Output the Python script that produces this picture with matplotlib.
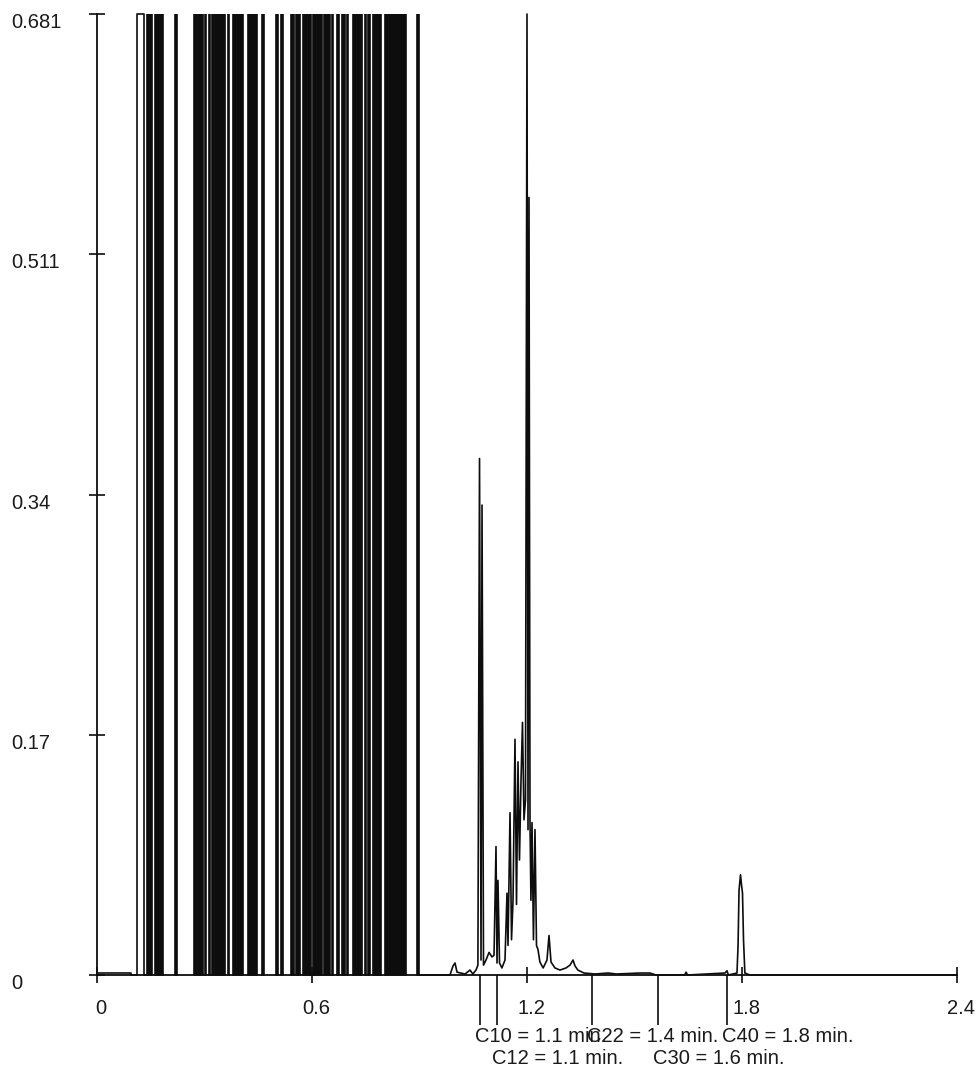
import matplotlib
matplotlib.use("Agg")
import matplotlib.pyplot as plt
import matplotlib.transforms as mtransforms

plt.rcParams['font.family'] = ['Liberation Sans', 'DejaVu Sans']

# ---------------- data ----------------
SAT_LEVEL = 0.681  # detector saturation (top of scale)

# lead-in trace (minutes, signal)
pre_t = [0.000, 0.0935, 0.0935, 0.1116, 0.1116, 0.1298, 0.1298, 0.135]
pre_y = [0.0014, 0.0014, 0.0, 0.0, 0.681, 0.681, 0.0, 0.0]

# saturated region: intervals (minutes) where the trace is pinned at the top
sat_start = [0.1395, 0.1619, 0.2177, 0.2707, 0.2819, 0.3014, 0.3126, 0.3209,
             0.3293, 0.3656, 0.3795, 0.4214, 0.4605, 0.4995, 0.5135, 0.5414,
             0.5553, 0.5749, 0.6028, 0.6335, 0.6558, 0.6698, 0.6837, 0.6977,
             0.7144, 0.7479, 0.7563, 0.7702, 0.8037, 0.8930]
sat_end = [0.1535, 0.1842, 0.2233, 0.2791, 0.2958, 0.3042, 0.3153, 0.3265,
           0.3572, 0.3684, 0.4074, 0.4465, 0.4660, 0.5051, 0.5191, 0.5498,
           0.5665, 0.5972, 0.6279, 0.6502, 0.6586, 0.6753, 0.6921, 0.7005,
           0.7395, 0.7507, 0.7619, 0.7926, 0.8623, 0.8986]

# trace after the saturated region (minutes, signal)
post_t = [0.900, 0.985, 0.9935, 0.9991, 1.0047, 1.027, 1.041, 1.049, 1.0577,
          1.063, 1.0675, 1.0717, 1.0745, 1.0786, 1.0856, 1.094, 1.1024, 1.108,
          1.1135, 1.1163, 1.119, 1.1233, 1.130, 1.1386, 1.1442, 1.147, 1.1526,
          1.1568, 1.161, 1.1665, 1.1707, 1.1749, 1.179, 1.1833, 1.1874, 1.1916,
          1.1958, 1.2000, 1.2028, 1.2056, 1.2084, 1.211, 1.214, 1.218, 1.2223,
          1.2265, 1.2307, 1.236, 1.245, 1.2558, 1.2614, 1.267, 1.278, 1.292,
          1.309, 1.320, 1.3284, 1.334, 1.342, 1.359, 1.390, 1.426, 1.450,
          1.5154, 1.543, 1.560, 1.640, 1.644, 1.648, 1.7526, 1.758, 1.762,
          1.786, 1.789, 1.7917, 1.7958, 1.7986, 1.8014, 1.8042, 1.808, 1.822,
          2.400]
post_y = [0.0, 0.0, 0.0064, 0.0085, 0.002, 0.0007, 0.0035, 0.0007, 0.0035,
          0.007, 0.366, 0.0106, 0.333, 0.007, 0.0106, 0.016, 0.0128, 0.014,
          0.091, 0.0085, 0.067, 0.0085, 0.005, 0.0106, 0.058, 0.021, 0.115,
          0.025, 0.053, 0.167, 0.050, 0.151, 0.0815, 0.138, 0.179, 0.110,
          0.124, 0.681, 0.103, 0.551, 0.108, 0.053, 0.108, 0.025, 0.103,
          0.021, 0.018, 0.0092, 0.005, 0.0106, 0.028, 0.0092, 0.005, 0.0035,
          0.005, 0.007, 0.0106, 0.0064, 0.0035, 0.0014, 0.0007, 0.0014, 0.0007,
          0.0014, 0.0014, 0.0, 0.0, 0.002, 0.0, 0.0014, 0.003, 0.0,
          0.0014, 0.021, 0.060, 0.071, 0.064, 0.058, 0.025, 0.0014, 0.0,
          0.0]

# annotated retention times
marker_names = ['C10', 'C12', 'C22', 'C30', 'C40']
marker_times = [1.069, 1.116, 1.381, 1.566, 1.758]
marker_text = ['C10 = 1.1 min.', 'C12 = 1.1 min.', 'C22 = 1.4 min.',
               'C30 = 1.6 min.', 'C40 = 1.8 min.']
marker_row = [0, 1, 0, 1, 0]

x_ticks = [0, 0.6, 1.2, 1.8, 2.4]
x_ticklabels = ['0', '0.6', '1.2', '1.8', '2.4']
y_ticks = [0, 0.17, 0.34, 0.511, 0.681]
y_ticklabels = ['0', '0.17', '0.34', '0.511', '0.681']

# ---------------- figure ----------------
W, H, DPI = 979, 1070, 100
fig = plt.figure(figsize=(W / DPI, H / DPI), dpi=DPI)
fig.patch.set_facecolor('white')
ax = fig.add_axes([97 / W, 1 - 975 / H, 860 / W, 961 / H])
ax.set_xlim(0, 2.4)
ax.set_ylim(0, SAT_LEVEL)

lc = '#0d0d0d'
# saturated bands
for s, e in zip(sat_start, sat_end):
    ax.fill_between([s, e], 0, SAT_LEVEL, color=lc, linewidth=1.2)
# traces
ax.plot(pre_t, pre_y, color=lc, lw=1.2, clip_on=False)
ax.plot(post_t, post_y, color=lc, lw=1.2, clip_on=False)

for sp in ['top', 'right']:
    ax.spines[sp].set_visible(False)
for sp in ['left', 'bottom']:
    ax.spines[sp].set_linewidth(1.3)
    ax.spines[sp].set_color(lc)

ax.set_xticks(x_ticks)
ax.set_xticklabels([])
ax.set_yticks(y_ticks)
ax.set_yticklabels([])
ax.tick_params(axis='both', direction='inout', length=12, width=1.2, color=lc)

fs = 14.5
tc = '#1a1a1a'
# x tick labels
for t, lab in zip(x_ticks, x_ticklabels):
    tr = mtransforms.offset_copy(ax.transData, fig=fig, x=3, y=-24, units='points')
    ax.text(t, 0, lab, transform=tr, ha='center', va='center', fontsize=fs,
            color=tc, clip_on=False)

# y tick labels (left aligned at the figure's left margin)
ytr = mtransforms.blended_transform_factory(fig.transFigure, ax.transData)
for v, lab in zip(y_ticks, y_ticklabels):
    tr = mtransforms.offset_copy(ytr, fig=fig, x=0, y=-6, units='points')
    ax.text(11 / W, v, lab, transform=tr, ha='left', va='center', fontsize=fs,
            color=tc, clip_on=False)

# retention-time markers below the axis
mk_tr = mtransforms.blended_transform_factory(ax.transData, ax.transAxes)
ax.vlines(marker_times, -50 / 961, 0, transform=mk_tr, color=lc, lw=1.2,
          clip_on=False)
for t, txt, row in zip(marker_times, marker_text, marker_row):
    tr = mtransforms.offset_copy(ax.transData, fig=fig, x=-3.6,
                                 y=-44 - 16 * row, units='points')
    ax.text(t, 0, txt, transform=tr, ha='left', va='center', fontsize=fs,
            color=tc, clip_on=False)

fig.savefig('out.png', dpi=DPI, facecolor='white')
